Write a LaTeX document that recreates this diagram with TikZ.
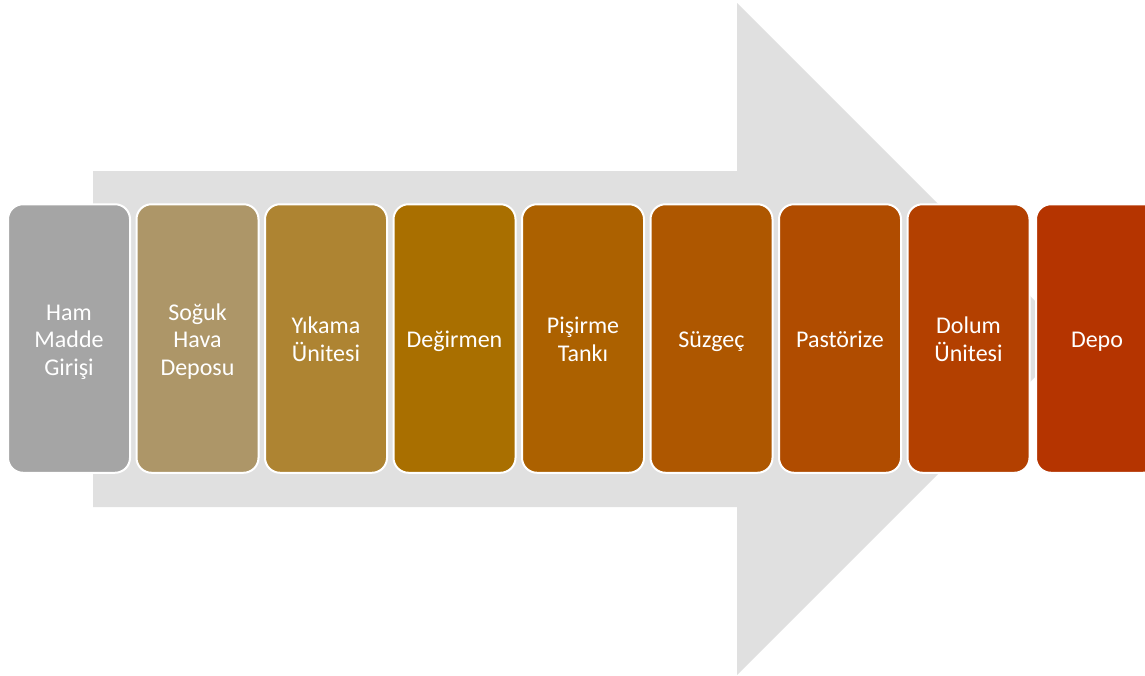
\documentclass[tikz,border=0pt]{standalone}
\usepackage{fontspec}
\setmainfont{Carlito}
\usetikzlibrary{positioning}
\definecolor{okgray}{HTML}{E0E0E0}
\definecolor{c1}{HTML}{A5A5A5}
\definecolor{c2}{HTML}{AD9668}
\definecolor{c3}{HTML}{AE8432}
\definecolor{c4}{HTML}{A96F00}
\definecolor{c5}{HTML}{AC6100}
\definecolor{c6}{HTML}{AE5700}
\definecolor{c7}{HTML}{B04C00}
\definecolor{c8}{HTML}{B34000}
\definecolor{c9}{HTML}{B53400}

\begin{document}
\begin{tikzpicture}[
  x=1pt, y=-1pt,
  stage/.style={rectangle, draw=white, line width=2pt, rounded corners=15pt, minimum width=122pt, minimum height=268.5pt, text width=112pt, align=center, text=white, font=\fontsize{24}{27.5}\selectfont,
    execute at begin node={\rule{0pt}{24pt}}, execute at end node={\rule[-6pt]{0pt}{6pt}}, fill=#1},
  gap/.style={right=4.5pt of #1},
]
\clip (0,0) rectangle (1145,675);
\fill[white] (0,0) rectangle (1145,675);

% grey process arrow behind the stages
\fill[okgray] (93,171) -- (737,171) -- (737,3) -- (1073,339) -- (737,675) -- (737,507) -- (93,507) -- cycle;

\node[stage=c1] (ham) at (69,338.5) {Ham\\Madde\\Girişi};
\node[stage=c2, gap=ham] (soguk) {Soğuk\\Hava\\Deposu};
\node[stage=c3, gap=soguk] (yikama) {Yıkama\\Ünitesi};
\node[stage=c4, gap=yikama] (degirmen) {Değirmen};
\node[stage=c5, gap=degirmen] (pisirme) {Pişirme\\Tankı};
\node[stage=c6, gap=pisirme] (suzgec) {Süzgeç};
\node[stage=c7, gap=suzgec] (pastorize) {Pastörize};
\node[stage=c8, gap=pastorize] (dolum) {Dolum\\Ünitesi};
\node[stage=c9, gap=dolum] (depo) {Depo};

\end{tikzpicture}
\end{document}
